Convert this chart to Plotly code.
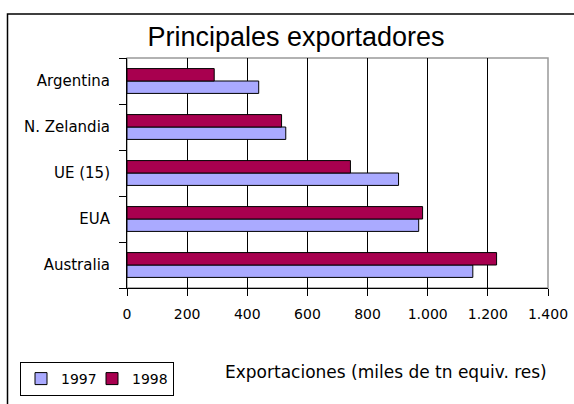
import plotly.graph_objects as go

categories = ["Australia", "EUA", "UE (15)", "N. Zelandia", "Argentina"]
values_1997 = [1150, 970, 903, 528, 438]
values_1998 = [1229, 983, 743, 514, 290]
series_names = ["1997", "1998"]
x_ticks = [0, 200, 400, 600, 800, 1000, 1200, 1400]

TITLE_FONT = "Liberation Sans, Arial, sans-serif"
FONT = "DejaVu Sans, Verdana, sans-serif"

fig = go.Figure()
fig.add_trace(go.Bar(y=categories, x=values_1997, name=series_names[0], orientation="h",
                     legendwidth=26,
                     marker=dict(color="#AAAAFF", line=dict(color="black", width=1))))
fig.add_trace(go.Bar(y=categories, x=values_1998, name=series_names[1], orientation="h",
                     legendwidth=36,
                     marker=dict(color="#A8004F", line=dict(color="black", width=1))))

W, H = 574, 404
L, T, R, B = 127, 58, 574 - 548, 404 - 288
pw, ph = W - L - R, H - T - B


def px_x(x):  # pixel x -> paper fraction
    return (x - L) / pw


def px_y(y):  # pixel y -> paper fraction
    return (H - B - y) / ph


fig.update_layout(
    width=W, height=H,
    margin=dict(l=L, r=R, t=T, b=B, autoexpand=False),
    paper_bgcolor="white", plot_bgcolor="white",
    barmode="group", bargap=0.46, bargroupgap=0,
    separators=",.",
    font=dict(family=FONT, size=14, color="black"),
    title=dict(text="Principales exportadores", xref="paper", x=px_x(296), xanchor="center",
               yref="container", y=1 - 37 / H, yanchor="middle",
               font=dict(family=TITLE_FONT, size=27, color="black")),
    showlegend=True,
    legend=dict(orientation="h", x=px_x(20), y=px_y(362), xanchor="left", yanchor="top",
                bordercolor="black", borderwidth=1, bgcolor="white",
                font=dict(family=FONT, size=14), itemwidth=30,
                traceorder="normal"),
    xaxis=dict(range=[0, 1400], tickvals=x_ticks, separatethousands=True,
               showgrid=True, gridcolor="black", gridwidth=1,
               showline=True, linecolor="black", linewidth=1,
               ticks="outside", ticklen=7, tickcolor="black", ticklabelstandoff=6,
               ticklabeloverflow="allow",
               tickfont=dict(family=FONT, size=14), zeroline=False, fixedrange=True),
    yaxis=dict(categoryorder="array", categoryarray=categories,
               showline=True, linecolor="black", linewidth=1,
               ticks="outside", ticklen=7, tickcolor="black",
               tickson="boundaries", showgrid=False, ticklabelstandoff=13,
               tickfont=dict(family=FONT, size=15), fixedrange=True),
    shapes=[
        dict(type="rect", xref="paper", yref="paper", x0=0, x1=1, y0=0, y1=1,
             line=dict(color="#999999", width=1.5), layer="below"),
        dict(type="rect", xref="paper", yref="paper",
             x0=px_x(7.5), x1=px_x(600), y0=px_y(430), y1=px_y(14),
             line=dict(color="black", width=1.5)),
    ],
    annotations=[
        dict(text="Exportaciones (miles de tn equiv. res)", xref="paper", yref="paper",
             x=px_x(386), y=px_y(372), xanchor="center", yanchor="middle",
             showarrow=False, font=dict(family=FONT, size=17, color="black")),
    ],
)

fig.write_html("out.html",
               config={"displayModeBar": False},
               post_script="document.body.style.margin='0';"
                           "document.body.style.overflow='hidden';")
